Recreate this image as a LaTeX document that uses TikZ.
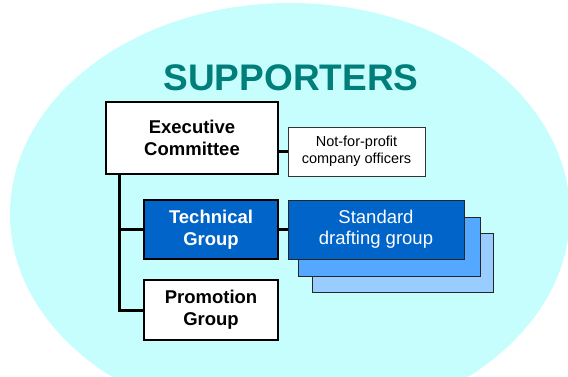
\documentclass[tikz,border=0pt]{standalone}
\usepackage{fontspec}
\setmainfont{Liberation Sans}
\definecolor{bgcyan}{HTML}{C6FEFE}
\definecolor{titleteal}{HTML}{007F7A}
\definecolor{darkblue}{HTML}{0064C8}
\definecolor{midblue}{HTML}{55A8FF}
\definecolor{lightblue}{HTML}{99CCFF}
\tikzset{
  box/.style={draw=black, line width=1.6pt, fill=white, inner sep=0pt, align=center, font=\bfseries\fontsize{18.5}{22}\selectfont},
  smallbox/.style={draw=black!80, line width=0.8pt, fill=white, inner sep=0pt, align=center, font=\fontsize{14.5}{17}\selectfont},
  bluebox/.style={draw=black!85, line width=1pt, inner sep=0pt},
  conn/.style={line width=3pt, black}
}
\begin{document}
\begin{tikzpicture}[x=1pt,y=-1pt]
\useasboundingbox (0,0) rectangle (568,376);
\begin{scope}
\clip (0,0) rectangle (568,376);
\fill[bgcyan] (290,214) ellipse [x radius=280, y radius=211];
\end{scope}
\node[font=\bfseries\fontsize{37}{37}\selectfont, text=titleteal] (title) at (291,78) {SUPPORTERS};
\node[box, minimum width=172, minimum height=72] (exec) at (192,138) {Executive\\Committee};
\node[smallbox, minimum width=137, minimum height=49] (nfp) at (356.5,151.5) {Not-for-profit\\company officers};
\node[bluebox, fill=lightblue, minimum width=181, minimum height=59] (std3) at (402.5,262.5) {};
\node[bluebox, fill=midblue, minimum width=182, minimum height=59] (std2) at (389,246.5) {};
\node[bluebox, fill=darkblue, text=white, align=center, font=\fontsize{18.5}{21}\selectfont, minimum width=176, minimum height=59] (std) at (376,229.5) {Standard\\drafting group};
\node[box, fill=darkblue, text=white, minimum width=134, minimum height=59] (tech) at (211,229.5) {Technical\\Group};
\node[box, minimum width=134, minimum height=60] (promo) at (211,310) {Promotion\\Group};
\coordinate (trunk) at ([xshift=14pt]exec.south west);
\draw[conn] (nfp.west -| exec.east) -- (nfp.west);
\draw[conn] (tech.east) -- (std.west);
\draw[conn] (trunk) -- (promo.west -| trunk) -- (promo.west);
\draw[conn] (tech.west -| trunk) -- (tech.west);
\end{tikzpicture}
\end{document}
